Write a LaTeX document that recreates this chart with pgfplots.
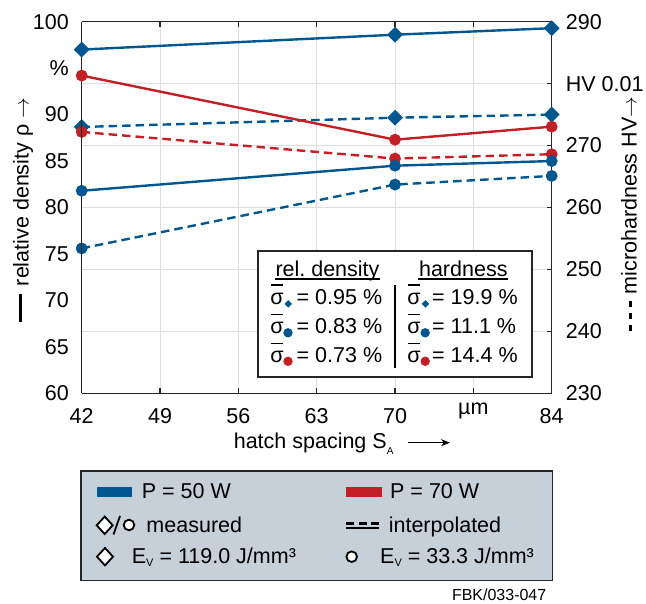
\documentclass[border=0pt]{standalone}
\usepackage{pgfplots}
\pgfplotsset{compat=1.18}
\usepackage{pgfplotstable}
\usepackage{fontspec}
\setmainfont{Liberation Sans}
\usetikzlibrary{arrows.meta}
\definecolor{cblue}{RGB}{0,87,143}
\definecolor{cred}{RGB}{196,30,38}
\definecolor{legbg}{RGB}{197,208,216}
\definecolor{gridc}{RGB}{222,222,222}
\definecolor{axc}{RGB}{38,38,38}

% A = P 50 W, E_V 119.0 (diamond); B = P 50 W, E_V 33.3 (circle); C = P 70 W, E_V 33.3 (circle)
\pgfplotstableread{
x  rdA  rdB  rdC  hvA   hvB   hvC
42 97.0 81.8 94.2 273.0 253.4 272.2
70 98.6 84.5 87.3 274.5 263.7 267.9
84 99.3 85.0 88.7 275.0 265.1 268.6
}\datatable

\newcommand{\fs}{\fontsize{21.5bp}{26bp}\selectfont}

\pgfplotsset{
  base/.style={
    scale only axis, width=470bp, height=371.6bp,
    at={(81.7bp,210.7bp)}, anchor=south west,
    xmin=42, xmax=84, clip=false,
    xtick={42,49,56,63,70,77,84},
    axis line style={axc, line width=1.4bp},
    tick style={axc, line width=1.1bp},
    major tick length=5bp,
    tick align=inside,
    ticklabel style={font=\fs, inner sep=0pt},
  },
  solidln/.style={line width=2.4bp, solid},
  dashln/.style={line width=2.4bp, dash pattern=on 8.5bp off 5bp},
  dia/.style={mark=square*, mark size=5.1bp, mark options={solid, rotate=45, line width=1bp}},
  circ/.style={mark=*, mark size=5.4bp, mark options={solid, line width=1bp}},
}

\begin{document}
\begin{tikzpicture}[font=\fs]
\path[use as bounding box] (0,0) rectangle (646bp,604bp);

% grid only
\begin{axis}[base, ymin=230, ymax=290, ytick={230,240,...,290},
  grid=major, grid style={gridc, line width=0.9bp},
  axis line style={draw=none}, tick style={draw=none},
  xticklabels={}, yticklabels={}]
\end{axis}

% hardness (right axis, dashed)
\begin{axis}[base, ymin=230, ymax=290,
  axis x line=none, axis y line*=right,
  ytick={230,240,...,290}, yticklabels={230,240,250,260,270,HV 0.01,290},
  yticklabel style={anchor=west, xshift=14bp}]
\addplot[cblue, dashln, dia] table[x=x,y=hvA]{\datatable};
\addplot[cblue, dashln, circ] table[x=x,y=hvB]{\datatable};
\addplot[cred, dashln, circ] table[x=x,y=hvC]{\datatable};
\end{axis}

% relative density (left axis, solid)
\begin{axis}[base, ymin=60, ymax=100,
  axis x line*=box, axis y line*=left,
  xticklabels={42,49,56,63,70,\raisebox{9bp}{µm},84},
  xticklabel style={anchor=north, yshift=-15bp, text height=15.3bp, text depth=0pt},
  ytick={60,65,...,100}, yticklabels={60,65,70,75,80,85,90,\%,100},
  ytick style={draw=none},
  yticklabel style={anchor=east, xshift=-12.7bp}]
\addplot[cblue, solidln, dia] table[x=x,y=rdA]{\datatable};
\addplot[cblue, solidln, circ] table[x=x,y=rdB]{\datatable};
\addplot[cred, solidln, circ] table[x=x,y=rdC]{\datatable};
\end{axis}

\begin{scope}[x=1bp, y=1bp]
% axis titles
\node[rotate=90, anchor=base, inner sep=0pt] at (28.5,394)
  {\rule[6.5bp]{28bp}{3bp}\hspace{8bp}relative density ρ\hspace{6bp}$\rightarrow$};
\node[rotate=90, anchor=base, inner sep=0pt] at (636.5,390)
  {\rule[4.5bp]{6bp}{2.8bp}\hspace{6bp}\rule[4.5bp]{6bp}{2.8bp}\hspace{6bp}\rule[4.5bp]{6bp}{2.8bp}\hspace{7bp}microhardness HV$\rightarrow$};
\node[anchor=base west, inner sep=0pt] at (233.6,155.7)
  {hatch spacing S\raisebox{-6.5bp}{\fontsize{10bp}{12bp}\selectfont A}};
\draw[line width=1.5bp, -{Stealth[length=9bp,width=7bp]}] (408,161.3) -- (450,161.3);

% inner sigma box
\draw[axc, line width=1.8bp, fill=white] (258.3,353.3) rectangle (531.7,226.7);
\node[anchor=base, inner sep=0pt] at (327.5,327.5) {rel.\ density};
\node[anchor=base, inner sep=0pt] at (463.3,327.5) {hardness};
\draw[line width=1.3bp] (275,325) -- (380,325);
\draw[line width=1.3bp] (418.3,325) -- (508.3,325);
\draw[line width=1.8bp] (395,319) -- (395,236.3);
\foreach \xs/\xe/\xm in {270.2/296.5/288.3, 407.2/432/425.5}{
  \node[anchor=base west, inner sep=0pt] at (\xs,299.6) {σ};
  \node[anchor=base west, inner sep=0pt] at (\xs,270.3) {σ};
  \node[anchor=base west, inner sep=0pt] at (\xs,241.3) {σ};
  \draw[line width=1.3bp] (\xs+1.1,319) -- (\xs+12.8,319);
  \draw[line width=1.3bp] (\xs+1.1,289.7) -- (\xs+12.8,289.7);
  \draw[line width=1.3bp] (\xs+1.1,260.8) -- (\xs+12.8,260.8);
  \fill[cblue] (\xm,300.1) ++(0,3.8) -- ++(3.8,-3.8) -- ++(-3.8,-3.8) -- ++(-3.8,3.8) -- cycle;
  \fill[cblue] (\xm-0.3,271.2) circle (4.7);
  \fill[cred] (\xm-0.3,242.7) circle (4.7);
}
\node[anchor=base west, inner sep=0pt] at (296.5,299.6) {= 0.95 \%};
\node[anchor=base west, inner sep=0pt] at (296.5,270.3) {= 0.83 \%};
\node[anchor=base west, inner sep=0pt] at (296.5,241.3) {= 0.73 \%};
\node[anchor=base west, inner sep=0pt] at (432,299.6) {= 19.9 \%};
\node[anchor=base west, inner sep=0pt] at (432,270.3) {= 11.1 \%};
\node[anchor=base west, inner sep=0pt] at (432,241.3) {= 14.4 \%};

% bottom legend
\draw[axc, line width=1.5bp, fill=legbg] (81,133) rectangle (552.7,23.3);
\fill[cblue] (96.7,106.7) rectangle (132.3,117.3);
\fill[cred] (346,106.7) rectangle (382.3,117.3);
\node[anchor=base west, inner sep=0pt] at (141.7,105.7) {P = 50 W};
\node[anchor=base west, inner sep=0pt] at (390,105.7) {P = 70 W};
\draw[line width=1.8bp, fill=white] (104.7,87.4) -- (112.7,78.7) -- (104.7,70) -- (96.7,78.7) -- cycle;
\draw[line width=1.8bp] (113.5,69.5) -- (120,88);
\draw[line width=1.8bp, fill=white] (129,79) circle (5.3);
\node[anchor=base west, inner sep=0pt] at (146.3,71.3) {measured};
\draw[line width=2.6bp, dash pattern=on 8bp off 4.5bp] (346,80.7) -- (379,80.7);
\draw[line width=1.8bp] (346,75.7) -- (379,75.7);
\node[anchor=base west, inner sep=0pt] at (388.6,71.3) {interpolated};
\draw[line width=1.8bp, fill=white] (105,56) -- (113,47.3) -- (105,38.6) -- (97,47.3) -- cycle;
\node[anchor=base west, inner sep=0pt] at (131.7,40.7)
  {E\raisebox{-3.4bp}{\fontsize{11bp}{13bp}\selectfont V} = 119.0 J/mm³};
\draw[line width=1.8bp, fill=white] (351.7,47.3) circle (5.3);
\node[anchor=base west, inner sep=0pt] at (380,40.7)
  {E\raisebox{-3.4bp}{\fontsize{11bp}{13bp}\selectfont V} = 33.3 J/mm³};
\node[anchor=base east, inner sep=0pt, font=\fontsize{16bp}{19bp}\selectfont] at (546.5,4) {FBK/033-047};
\end{scope}
\end{tikzpicture}
\end{document}
